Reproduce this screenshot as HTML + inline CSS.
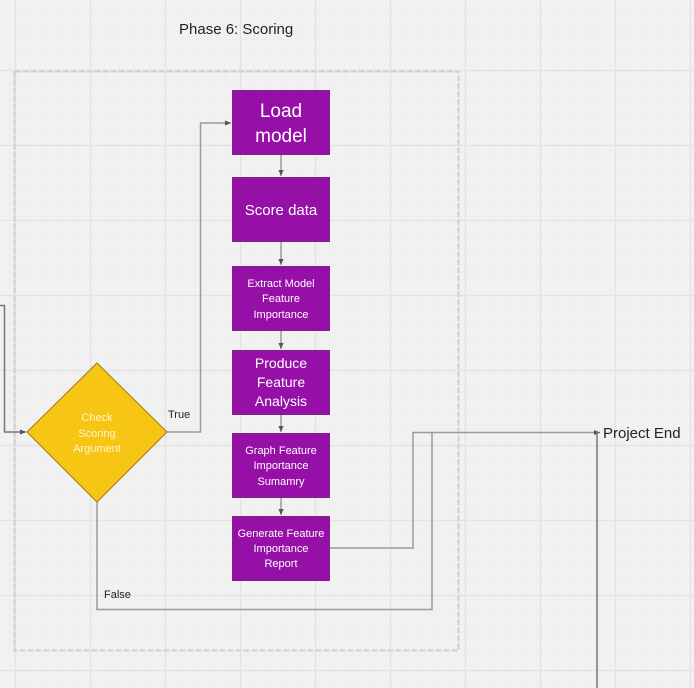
<!DOCTYPE html>
<html><head><meta charset="utf-8"><style>
html,body{margin:0;padding:0;}
body{width:694px;height:688px;overflow:hidden;background:#f1f1f1;font-family:"Liberation Sans","DejaVu Sans",sans-serif;}
</style></head><body>
<svg width="694" height="688" xmlns="http://www.w3.org/2000/svg" style="position:absolute;left:0;top:0">
<defs>
<pattern id="minor" width="15" height="15" patternUnits="userSpaceOnUse" x="0" y="-5">
<path d="M15 0V15M0 15H15" stroke="#ececec" stroke-width="1" fill="none"/>
</pattern>
<pattern id="major" width="75" height="75" patternUnits="userSpaceOnUse" x="15" y="-5">
<path d="M0.5 0V75M0 0.5H75" stroke="#e3e3e3" stroke-width="1.5" fill="none"/>
</pattern>
<marker id="ar" markerWidth="5" markerHeight="5" refX="4" refY="2.5" orient="auto"><path d="M0,0.8 L4,2.5 L0,4.2z" fill="#555"/></marker>
</defs>
<rect width="694" height="688" fill="url(#minor)"/>
<rect width="694" height="688" fill="url(#major)"/>
<rect x="14.5" y="71.5" width="444" height="579" fill="none" stroke="#cfcfcf" stroke-width="2" stroke-dasharray="6 2"/>
<text x="179" y="34" font-size="15" fill="#222">Phase 6: Scoring</text>
<g stroke="#9a9a9a" stroke-width="1.5" fill="none">
<path d="M0 305.5H4.5V432H26" stroke="#777" marker-end="url(#ar)"/>
<path d="M167 432H200.5V123H231" marker-end="url(#ar)"/>
<path d="M281 154V176" marker-end="url(#ar)"/>
<path d="M281 241V265" marker-end="url(#ar)"/>
<path d="M281 330V349" marker-end="url(#ar)"/>
<path d="M281 414V432" marker-end="url(#ar)"/>
<path d="M281 497V515" marker-end="url(#ar)"/>
<path d="M330 548H413V432.5H600" marker-end="url(#ar)"/>
<path d="M97 502V609.5H432V432.5"/>
<path d="M597 432V688" stroke="#777"/>
</g>
<polygon points="97,363 167,432 97,502 27,432" fill="#f7c514" stroke="#9c7d10" stroke-width="1"/>
<g fill="#9610a8" stroke="#6d0b7a" stroke-width="0.8">
<rect x="232.5" y="90.5" width="97" height="64"/>
<rect x="232.5" y="177.5" width="97" height="64"/>
<rect x="232.5" y="266.5" width="97" height="64"/>
<rect x="232.5" y="350.5" width="97" height="64"/>
<rect x="232.5" y="433.5" width="97" height="64"/>
<rect x="232.5" y="516.5" width="97" height="64"/>
</g>
<g fill="#fff" text-anchor="middle">
<text x="281" y="117" font-size="19">Load</text>
<text x="281" y="142" font-size="19">model</text>
<text x="281" y="215" font-size="15">Score data</text>
<text x="281" y="287" font-size="11">Extract Model</text>
<text x="281" y="302" font-size="11">Feature</text>
<text x="281" y="318" font-size="11">Importance</text>
<text x="281" y="368" font-size="14">Produce</text>
<text x="281" y="387" font-size="14">Feature</text>
<text x="281" y="406" font-size="14">Analysis</text>
<text x="281" y="454" font-size="11">Graph Feature</text>
<text x="281" y="469" font-size="11">Importance</text>
<text x="281" y="485" font-size="11">Sumamry</text>
<text x="281" y="537" font-size="11">Generate Feature</text>
<text x="281" y="552" font-size="11">Importance</text>
<text x="281" y="567" font-size="11">Report</text>
<text x="97" y="421" font-size="11" fill="#fff6d0">Check</text>
<text x="97" y="437" font-size="11" fill="#fff6d0">Scoring</text>
<text x="97" y="452" font-size="11" fill="#fff6d0">Argument</text>
</g>
<text x="168" y="418" font-size="11" fill="#222">True</text>
<text x="104" y="598" font-size="11" fill="#222">False</text>
<text x="603" y="438" font-size="15" fill="#222">Project End</text>
</svg>
</body></html>
